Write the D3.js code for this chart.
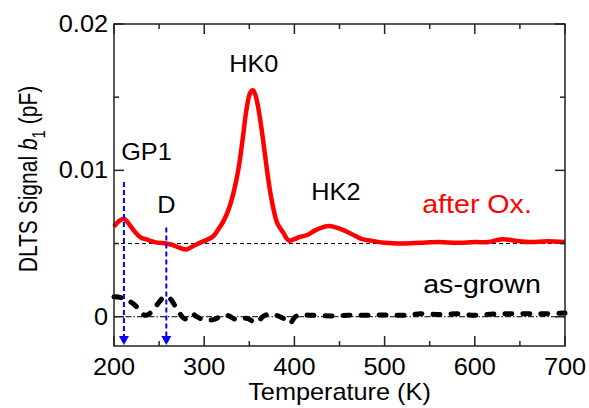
<!DOCTYPE html>
<html>
<head>
<meta charset="utf-8">
<script src="https://cdn.jsdelivr.net/npm/d3@7"></script>
<style>
    body { margin: 0; background: #fff; }
    text { font-family: Arial, "Liberation Sans", sans-serif; }
</style>
</head>
<body>
<svg id="grafico"></svg>
<script>
// Temperatura (K) y señal DLTS (pF)
var tempOx = [200, 205, 211, 217, 223, 230, 236, 245, 258, 265, 270, 280, 290, 297, 303, 310, 316, 322, 328, 333,
    338, 343, 347, 351, 354, 357, 361, 365, 369, 373, 377, 381, 387, 394, 400, 406, 415, 423, 431, 438,
    446, 455, 465, 475, 485, 500, 520, 540, 560, 580, 600, 615, 630, 645, 660, 680, 700];
var senalOx = [0.00615, 0.0065, 0.0067, 0.0063, 0.0058, 0.0054, 0.00528, 0.0051, 0.0050, 0.0049, 0.00478, 0.0046, 0.0049, 0.0051, 0.00525, 0.0055, 0.0060, 0.0066, 0.0075, 0.0086,
    0.0101, 0.0123, 0.0142, 0.0153, 0.01547, 0.0151, 0.0139, 0.0122, 0.0103, 0.0086, 0.0073, 0.0064, 0.0058, 0.0052, 0.0053, 0.00545, 0.0056, 0.0059, 0.0061, 0.0062,
    0.0061, 0.0059, 0.0056, 0.0053, 0.0052, 0.00505, 0.0050, 0.00505, 0.0051, 0.00505, 0.0051, 0.0051, 0.0053, 0.0052, 0.0051, 0.00515, 0.0051];

var tempAsGrown = [200, 208, 214, 221, 228, 234, 239, 244, 250, 256, 260, 264, 268, 273, 279, 286, 292, 299, 310, 318,
    325, 336, 347, 358, 365, 373, 384, 390, 395, 401, 406, 420, 440, 460, 480, 500, 520, 540, 560, 580,
    600, 620, 640, 660, 680, 700];
var senalAsGrown = [0.00136, 0.0013, 0.00115, 0.0009, 0.0005, 0.0001, 0.0002, 0.0005, 0.0010, 0.00136, 0.00135, 0.0011, 0.0007, 0.0002, -0.00015, 0.0002, 0.0, -0.0002, -0.0002, 0.0,
    0.0001, -0.0002, -0.0001, -0.0004, 0.0, 0.0002, 0.0, -0.0002, -0.00045, 0.0, 0.0001, 0.0001, 0.00005, 0.0001, 0.0001, 0.00012, 0.0001, 0.0002, 0.00015, 0.0002,
    0.0001, 0.00018, 0.0002, 0.0002, 0.0002, 0.00025];

// Líneas base de cada curva
var lineasBase = [0.005, 0];

// Flechas de los niveles GP1 y D: temperatura y comienzo
var flechasTemp = [211, 258];
var flechasInicio = [0.0092, 0.0061];

// Etiquetas de los picos
var etiquetas = ["GP1", "D", "HK0", "HK2"];
var etiquetasTemp = [236, 258, 355, 446];
var etiquetasSenal = [0.0107, 0.0071, 0.0167, 0.0080];

var ticksX = [200, 300, 400, 500, 600, 700];
var ticksY = [0, 0.01, 0.02];

var anchura = 589,
    altura = 408,
    margen = { izq: 114, der: 24, arr: 24, aba: 62 },
    estirar = 1.1; //el texto original sale algo ensanchado

var x = d3.scaleLinear().domain([200, 700]).range([margen.izq, anchura - margen.der]);
var y = d3.scaleLinear().domain([-0.002, 0.02]).range([altura - margen.aba, margen.arr]);

var svg = d3.select("#grafico")
    .attr("width", anchura)
    .attr("height", altura);

var x0 = x.range()[0], x1 = x.range()[1], y0 = y.range()[0], y1 = y.range()[1];

//Texto ensanchado en horizontal
function texto(px, py, cadena, ancla, color, tam) {
    return svg.append("text")
        .attr("transform", "translate(" + px + "," + py + ") scale(" + estirar + ",1)")
        .style("text-anchor", ancla)
        .style("font-size", (tam || 23) + "px")
        .style("fill", color || "#000")
        .text(cadena);
}

//Líneas base punteadas
svg.append("line")
    .attr("x1", x0).attr("x2", x1)
    .attr("y1", y(lineasBase[0])).attr("y2", y(lineasBase[0]))
    .style("stroke", "#000").style("stroke-width", 1)
    .style("stroke-dasharray", "4,3");
svg.append("line")
    .attr("x1", x0).attr("x2", x1)
    .attr("y1", y(lineasBase[1])).attr("y2", y(lineasBase[1]))
    .style("stroke", "#000").style("stroke-width", 1)
    .style("stroke-dasharray", "6,2,1.5,2");

var linea = d3.line()
    .x(function (d) { return x(d[0]); })
    .y(function (d) { return y(d[1]); })
    .curve(d3.curveCatmullRom);

//Curva as-grown (negra discontinua)
svg.append("path")
    .datum(d3.zip(tempAsGrown, senalAsGrown))
    .attr("d", linea)
    .style("fill", "none")
    .style("stroke", "#000")
    .style("stroke-width", 5)
    .style("stroke-linecap", "round")
    .style("stroke-dasharray", "7,11");

//Curva after Ox. (roja)
svg.append("path")
    .datum(d3.zip(tempOx, senalOx))
    .attr("d", linea)
    .style("fill", "none")
    .style("stroke", "#ff0000")
    .style("stroke-width", 4.5)
    .style("stroke-linejoin", "round");

//Flechas azules
flechasTemp.forEach(function (t, i) {
    var fx = x(t);
    svg.append("line")
        .attr("x1", fx).attr("x2", fx)
        .attr("y1", y(flechasInicio[i])).attr("y2", y0 - 8)
        .style("stroke", "#0000ff").style("stroke-width", 2)
        .style("stroke-dasharray", "5,3");
    svg.append("path")
        .attr("d", "M" + (fx - 5) + "," + (y0 - 10) + "L" + (fx + 5) + "," + (y0 - 10) + "L" + fx + "," + (y0 - 1) + "Z")
        .style("fill", "#0000ff");
});

//Marco y ticks hacia dentro
svg.append("rect")
    .attr("x", x0).attr("y", y1)
    .attr("width", x1 - x0).attr("height", y0 - y1)
    .style("fill", "none").style("stroke", "#222").style("stroke-width", 1.5);

var ticksXTodos = d3.range(200, 701, 50);
var ticksYTodos = d3.range(0, 0.0201, 0.005);

ticksXTodos.forEach(function (t) {
    var largo = (t % 100 === 0) ? 10 : 5;
    svg.append("line").attr("x1", x(t)).attr("x2", x(t)).attr("y1", y0).attr("y2", y0 - largo)
        .style("stroke", "#222").style("stroke-width", 1.5);
    svg.append("line").attr("x1", x(t)).attr("x2", x(t)).attr("y1", y1).attr("y2", y1 + largo)
        .style("stroke", "#222").style("stroke-width", 1.5);
});
ticksYTodos.forEach(function (v, i) {
    var largo = (i % 2 === 0) ? 10 : 5;
    svg.append("line").attr("x1", x0).attr("x2", x0 + largo).attr("y1", y(v)).attr("y2", y(v))
        .style("stroke", "#222").style("stroke-width", 1.5);
    svg.append("line").attr("x1", x1).attr("x2", x1 - largo).attr("y1", y(v)).attr("y2", y(v))
        .style("stroke", "#222").style("stroke-width", 1.5);
});

//Etiquetas de ejes
ticksX.forEach(function (d) {
    texto(x(d), y0 + 29, d, "middle");
});
ticksY.forEach(function (d) {
    texto(x0 - 6, y(d) + 8, d === 0 ? "0" : d3.format(".2f")(d), "end");
});

texto((x0 + x1) / 2, 400, "Temperature (K)", "middle");

var tituloY = svg.append("text")
    .attr("transform", "translate(37,179) scale(1.25,1) rotate(-90)")
    .style("text-anchor", "middle")
    .style("font-size", "21px");
tituloY.append("tspan").text("DLTS Signal ");
tituloY.append("tspan").style("font-style", "italic").text("b");
tituloY.append("tspan").attr("dy", 6).style("font-size", "15px").text("1");
tituloY.append("tspan").attr("dy", -6).text(" (pF)");

//Etiquetas de picos
etiquetas.forEach(function (d, i) {
    texto(x(etiquetasTemp[i]), y(etiquetasSenal[i]), d, "middle");
});

texto(477, 213, "after Ox.", "middle", "#ff0000", 26);
texto(482, 293, "as-grown", "middle", "#000", 26);
</script>
</body>
</html>
